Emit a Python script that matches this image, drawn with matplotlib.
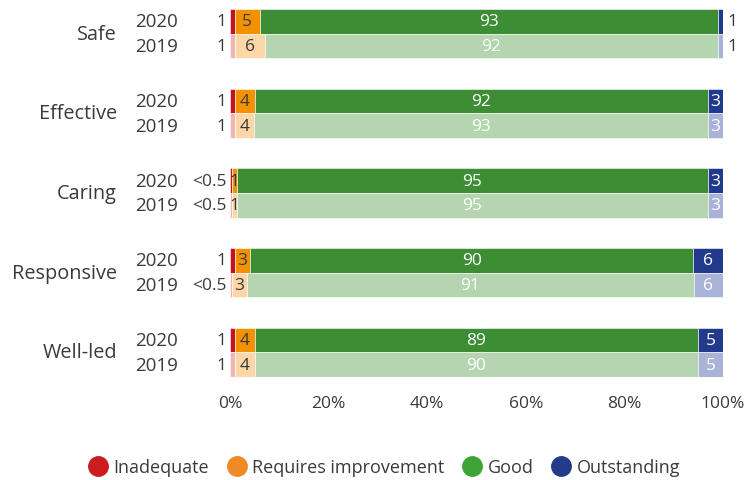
import matplotlib
matplotlib.use('Agg')
import matplotlib.pyplot as plt
from matplotlib.lines import Line2D

plt.rcParams['font.family'] = ['Open Sans', 'DejaVu Sans']

categories = ['Safe', 'Effective', 'Caring', 'Responsive', 'Well-led']
years = ['2020', '2019']
ratings = ['Inadequate', 'Requires improvement', 'Good', 'Outstanding']

# values per category (2020 and 2019)
inadequate_2020 = [1, 1, 0.4, 1, 1]
inadequate_2019 = [1, 1, 0.4, 0.4, 1]
ri_2020 = [5, 4, 1, 3, 4]
ri_2019 = [6, 4, 1, 3, 4]
good_2020 = [93, 92, 95, 90, 89]
good_2019 = [92, 93, 95, 91, 90]
out_2020 = [1, 3, 3, 6, 5]
out_2019 = [1, 3, 3, 6, 5]
inadequate_lbl_2020 = ['1', '1', '<0.5', '1', '1']
inadequate_lbl_2019 = ['1', '1', '<0.5', '<0.5', '1']
x_ticks = [0, 20, 40, 60, 80, 100]
x_tick_labels = ['0%', '20%', '40%', '60%', '80%', '100%']

dark = ['#C8101E', '#F39200', '#3C8D34', '#233A8C']
light = ['#F3B5B3', '#FDD7A8', '#B4D5AF', '#A9B3D8']
legend_cols = ['#CC1C1F', '#F08A24', '#3DA535', '#243A8A']
txt = '#3a3a3a'

data = {
    '2020': (inadequate_2020, ri_2020, good_2020, out_2020, inadequate_lbl_2020),
    '2019': (inadequate_2019, ri_2019, good_2019, out_2019, inadequate_lbl_2019),
}

fig = plt.figure(figsize=(7.45, 4.81), dpi=100)
ax = fig.add_axes([230 / 745, 1 - 378 / 481, 493 / 745, 368 / 481])

h = 0.308
for yi, yr in enumerate(years):
    inad, ri, good, out, inad_lbl = data[yr]
    cols = dark if yr == '2020' else light
    for i, cat in enumerate(categories):
        yc = i - h / 2 if yr == '2020' else i + h / 2
        vals = [inad[i], ri[i], good[i], out[i]]
        tot = sum(vals)
        widths = [v * 100 / tot for v in vals]
        left = 0
        lefts = []
        for w, c in zip(widths, cols):
            ax.barh(yc, w, left=left, height=h, color=c, edgecolor='white',
                    linewidth=0.4)
            lefts.append(left)
            left += w
        # labels
        ax.text(-0.7, yc, inad_lbl[i], ha='right', va='center', color=txt, fontsize=12.5)
        ax.text(lefts[1] + widths[1] / 2, yc, str(ri[i]), ha='center', va='center',
                color=txt, fontsize=12.5)
        ax.text(lefts[2] + widths[2] / 2, yc, str(good[i]), ha='center', va='center',
                color='white', fontsize=12.5)
        if out[i] >= 2:
            ax.text(lefts[3] + widths[3] / 2, yc, str(out[i]), ha='center', va='center',
                    color='white', fontsize=12.5)
        else:
            ax.text(100.8, yc, str(out[i]), ha='left', va='center', color=txt, fontsize=12.5)
        ax.text(-10.6, yc, yr, ha='right', va='center', color=txt, fontsize=13.5)

for i, cat in enumerate(categories):
    ax.text(-22.9, i, cat, ha='right', va='center', color=txt, fontsize=14.3)

ax.set_xlim(0, 100)
ax.set_ylim(4 + h, -h)
ax.set_xticks(x_ticks)
ax.set_xticklabels(x_tick_labels, fontsize=12.5, color=txt)
ax.set_yticks([])
ax.tick_params(axis='x', length=0, pad=13)
for s in ax.spines.values():
    s.set_visible(False)

handles = [Line2D([0], [0], marker='o', linestyle='', markersize=14,
                  markerfacecolor=c, markeredgecolor=c) for c in legend_cols]
fig.legend(handles, ratings, loc='center', bbox_to_anchor=(384 / 745, 1 - 468 / 481),
           ncol=4, frameon=False, fontsize=13, handletextpad=0.3, columnspacing=1.0,
           handlelength=1.1, labelcolor=txt)

fig.savefig('out.png', dpi=100)
